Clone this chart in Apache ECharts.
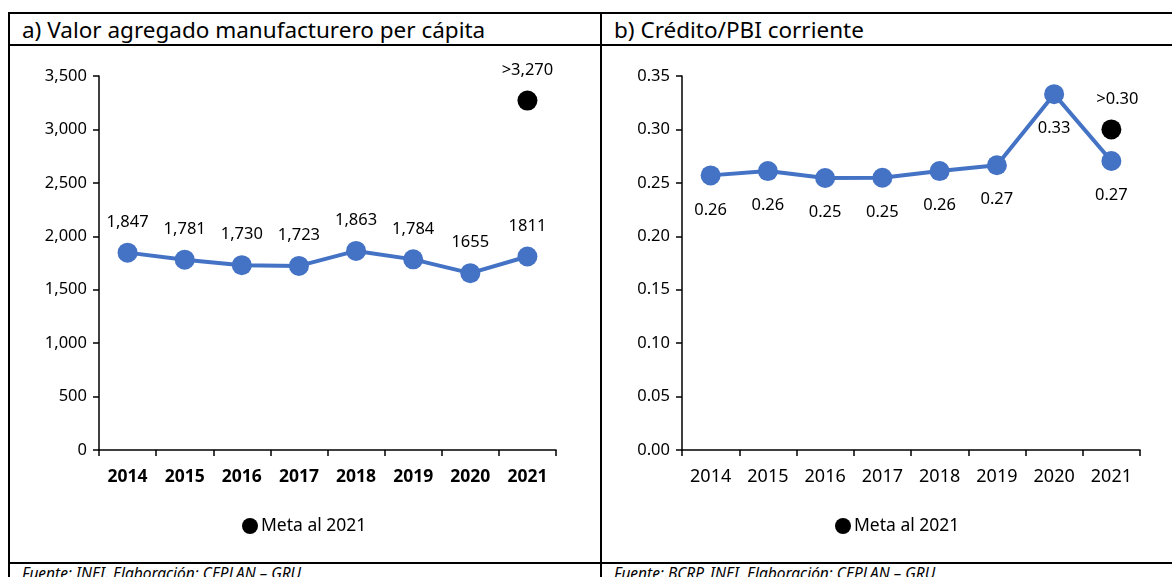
<!DOCTYPE html>
<html>
<head>
<meta charset="utf-8">
<script src="https://cdn.jsdelivr.net/npm/echarts@6/dist/echarts.min.js"></script>
<style>
  html, body { margin: 0; padding: 0; background: #fff; }
  body { width: 1172px; height: 577px; position: relative; overflow: hidden; font-family: "Noto Sans", "Open Sans", sans-serif; }
  .frame { position: absolute; border-color: #000; border-style: solid; border-width: 0; }
  .title { position: absolute; top: 14px; font-size: 22.5px; color: #000; line-height: 31px; white-space: nowrap; }
  .src { position: absolute; top: 563px; font-size: 15.5px; line-height: 20px; font-style: italic; color: #000; white-space: nowrap; }
  #chart { position: absolute; left: 0; top: 0; width: 1172px; height: 577px; }
</style>
</head>
<body>
<div class="frame" style="left:8px;top:12px;width:1170px;height:0;border-top-width:2px;"></div>
<div class="frame" style="left:8px;top:44px;width:1170px;height:0;border-top-width:2px;"></div>
<div class="frame" style="left:8px;top:562px;width:1170px;height:0;border-top-width:2px;"></div>
<div class="frame" style="left:8px;top:12px;width:0;height:570px;border-left-width:2px;"></div>
<div class="frame" style="left:600px;top:12px;width:0;height:570px;border-left-width:2px;"></div>
<div class="title" style="left:22px;">a) Valor agregado manufacturero per cápita</div>
<div class="title" style="left:614px;">b) Crédito/PBI corriente</div>
<div class="src" style="left:22px;">Fuente: INEI. Elaboración: CEPLAN – GRU</div>
<div class="src" style="left:614px;">Fuente: BCRP, INEI. Elaboración: CEPLAN – GRU</div>
<div id="chart"></div>
<script>
(function () {
    "use strict";
    // datos
    var years = ['2014', '2015', '2016', '2017', '2018', '2019', '2020', '2021'];
    var vamValues = [1847, 1781, 1730, 1723, 1863, 1784, 1655, 1811];
    var vamLabels = ['1,847', '1,781', '1,730', '1,723', '1,863', '1,784', '1655', '1811'];
    var vamMeta = 3270;
    var vamMetaLabel = '>3,270';
    var credValues = [0.257, 0.261, 0.2545, 0.2548, 0.261, 0.2665, 0.333, 0.2705];
    var credMeta = 0.30;
    var credMetaLabel = '>0.30';
    var legendName = 'Meta al 2021';

    var blue = '#4472C4';
    var font = '"Noto Sans", "Open Sans", sans-serif';

    var fmtThousands = function (v) {
        return String(v).replace(/\B(?=(\d{3})+(?!\d))/g, ',');
    };

    var xAxisOf = function (idx, bold) {
        return {
            type: 'category',
            gridIndex: idx,
            data: years,
            axisLine: {lineStyle: {color: '#000', width: 1.5}},
            axisTick: {show: true, length: 6, lineStyle: {color: '#000', width: 1.5}},
            axisLabel: {color: '#000', fontSize: bold ? 17.5 : 18, fontFamily: font, fontWeight: bold ? 'bold' : 'normal', margin: 18}
        };
    };

    var yAxisOf = function (idx, max, interval, fmt) {
        return {
            type: 'value',
            gridIndex: idx,
            min: 0,
            max: max,
            interval: interval,
            splitLine: {show: false},
            axisLine: {show: true, lineStyle: {color: '#000', width: 1.5}},
            axisTick: {show: true, length: 6, lineStyle: {color: '#000', width: 1.5}},
            axisLabel: {color: '#000', fontSize: 16.5, fontFamily: font, margin: 12, formatter: fmt}
        };
    };

    var lblSize = 16.5;

    var legendOf = function (left) {
        return {
            data: [legendName], left: left, top: 512, icon: 'circle', itemWidth: 16, itemHeight: 16, itemGap: 2,
            textStyle: {color: '#000', fontSize: 17.5, fontFamily: font, padding: [0, 0, 0, -2]}
        };
    };

    var option = {
        animation: false,
        grid: [
            {left: 99, top: 76, width: 457, height: 374},
            {left: 682, top: 76, width: 458, height: 374}
        ],
        legend: [legendOf(237), legendOf(830)],
        xAxis: [xAxisOf(0, true), xAxisOf(1, false)],
        yAxis: [
            yAxisOf(0, 3500, 500, function (v) { return fmtThousands(v); }),
            yAxisOf(1, 0.35, 0.05, function (v) { return v.toFixed(2); })
        ],
        series: [
            {
                name: 'VAM',
                type: 'line',
                xAxisIndex: 0, yAxisIndex: 0,
                data: vamValues,
                symbol: 'circle', symbolSize: 20,
                lineStyle: {color: blue, width: 4},
                itemStyle: {color: blue},
                label: {
                    show: true, position: 'top', distance: 12,
                    formatter: function (p) { return vamLabels[p.dataIndex]; },
                    color: '#000', fontSize: lblSize, fontFamily: font
                }
            },
            {
                name: legendName,
                type: 'scatter',
                xAxisIndex: 0, yAxisIndex: 0,
                data: [[years[7], vamMeta]],
                symbol: 'circle', symbolSize: 20,
                itemStyle: {color: '#000', opacity: 1},
                label: {
                    show: true, position: 'top', distance: 12,
                    formatter: vamMetaLabel,
                    color: '#000', fontSize: lblSize, fontFamily: font
                }
            },
            {
                name: 'Credito',
                type: 'line',
                xAxisIndex: 1, yAxisIndex: 1,
                data: credValues,
                symbol: 'circle', symbolSize: 20,
                lineStyle: {color: blue, width: 4},
                itemStyle: {color: blue},
                label: {
                    show: true, position: 'bottom', distance: 16,
                    formatter: function (p) { return p.value.toFixed(2); },
                    color: '#000', fontSize: lblSize, fontFamily: font
                }
            },
            {
                name: legendName,
                type: 'scatter',
                xAxisIndex: 1, yAxisIndex: 1,
                data: [[years[7], credMeta]],
                symbol: 'circle', symbolSize: 20,
                itemStyle: {color: '#000', opacity: 1},
                label: {
                    show: true, position: 'top', distance: 12, offset: [6, 0],
                    formatter: credMetaLabel,
                    color: '#000', fontSize: lblSize, fontFamily: font
                }
            }
        ]
    };

    var myChart = echarts.init(document.getElementById('chart'));
    myChart.setOption(option);
})();
</script>
</body>
</html>
